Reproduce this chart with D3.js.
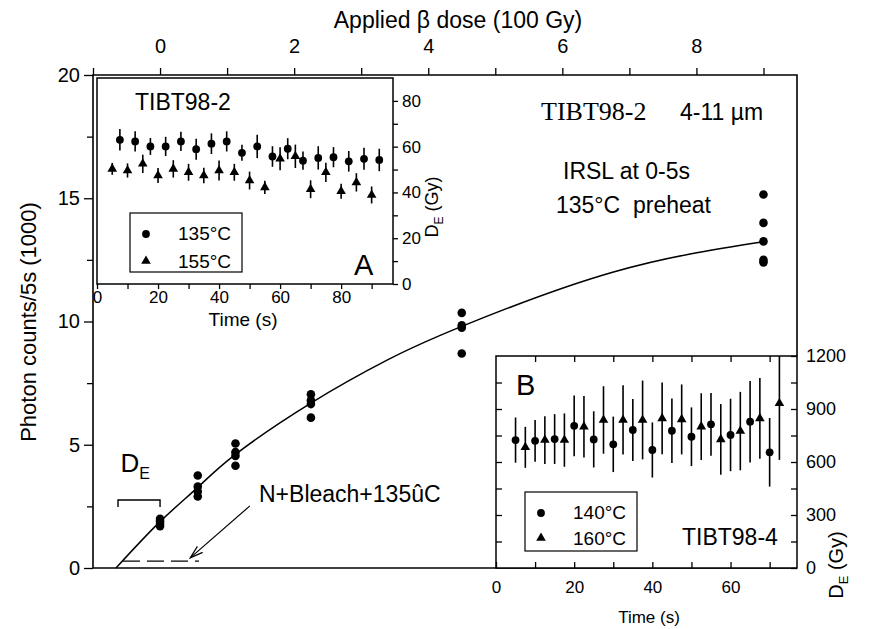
<!DOCTYPE html>
<html>
<head>
<meta charset="utf-8">
<script src="https://d3js.org/d3.v7.min.js"></script>
<style>
  body { margin: 0; background: #fff; }
  text { font-family: "Liberation Sans", Arial, sans-serif; fill: #000; }
</style>
</head>
<body>
<div id="chart"></div>
<script>
// main growth curve: applied beta dose (100 Gy) vs photon counts/5s (1000)
var doses = [0, 0.5625, 1.125, 2.25, 4.5, 9];
var counts = [
  [2.0, 1.9, 1.8, 1.7],
  [3.75, 3.3, 3.1, 2.9],
  [5.05, 4.7, 4.55, 4.15],
  [7.05, 6.8, 6.65, 6.1],
  [10.35, 9.85, 9.75, 8.7],
  [15.15, 14.0, 13.25, 12.5, 12.4]
];
// fitted curve
var fitDose = [-0.657, 0, 0.5625, 1.125, 2.25, 3.4, 4.5, 6.75, 9];
var fitCounts = [0, 1.88, 3.27, 4.61, 6.69, 8.45, 9.8, 12.0, 13.24];

// inset A: TIBT98-2, DE (Gy) vs time (s)
var aTime135 = [7.5, 12.5, 17.5, 22.5, 27.5, 32.5, 37.5, 42.5, 47.5, 52.5, 57.5, 62.5, 67.5, 72.5, 77.5, 82.5, 87.5, 92.5];
var aDe135 = [63.0, 62.3, 60.1, 60.1, 62.3, 58.9, 61.3, 62.3, 57.3, 60.1, 55.7, 59.1, 53.9, 55.1, 55.4, 53.6, 54.7, 54.2];
var aErr135 = [4.7, 4.4, 3.7, 4.2, 4.2, 4.6, 4.5, 4.4, 3.5, 5.1, 4.5, 4.6, 4.0, 5.1, 4.4, 4.5, 4.8, 4.9];
var aTime155 = [5, 10, 15, 20, 25, 30, 35, 40, 45, 50, 55, 60, 65, 70, 75, 80, 85, 90];
var aDe155 = [50.3, 49.6, 52.5, 47.4, 50.3, 48.8, 47.4, 49.6, 48.8, 45.2, 42.2, 54.7, 55.8, 41.4, 48.8, 40.5, 44.4, 38.9];
var aErr155 = [2.6, 3.1, 4.0, 3.3, 3.8, 3.7, 3.4, 4.4, 3.7, 3.9, 2.9, 5.0, 5.1, 3.9, 4.2, 3.3, 4.0, 3.7];

// inset B: TIBT98-4, DE (Gy) vs time (s)
var bTime140 = [5, 10, 15, 20, 25, 30, 35, 40, 45, 50, 55, 60, 65, 70];
var bDe140 = [724, 720, 730, 805, 728, 700, 781, 668, 777, 743, 813, 753, 828, 655];
var bErr140 = [128, 118, 141, 172, 159, 157, 176, 156, 182, 166, 177, 205, 231, 194];
var bTime160 = [7.5, 12.5, 17.5, 22.5, 27.5, 32.5, 37.5, 42.5, 47.5, 52.5, 57.5, 62.5, 67.5, 72.5];
var bDe160 = [683, 724, 724, 800, 838, 838, 838, 847, 841, 800, 728, 775, 847, 932];
var bErr160 = [116, 135, 151, 174, 191, 196, 223, 203, 198, 189, 200, 222, 229, 320];

var svg = d3.select("#chart").append("svg")
  .attr("width", 887)
  .attr("height", 629);

// ---------- main plot ----------
var x = d3.scaleLinear().domain([-1, 9.5]).range([93, 797]);
var y = d3.scaleLinear().domain([0, 20]).range([568, 75]);

function styleAxis(g, size) {
  g.select(".domain").remove();
  g.attr("font-size", size).attr("font-family", "Liberation Sans, Arial, sans-serif");
  g.selectAll("text").style("font-size", size + "px");
  g.selectAll("line").attr("stroke-width", 1.3);
}

var yAxis = svg.append("g")
  .attr("transform", "translate(93,0)")
  .call(d3.axisLeft(y).tickValues(d3.range(0, 20.1, 2.5)).tickSize(9).tickPadding(4)
    .tickFormat(function(d) { return d % 5 === 0 ? d : ""; }));
styleAxis(yAxis, 20);
yAxis.selectAll(".tick line").filter(function(d) { return d % 5 !== 0; }).attr("x2", -6);

var topAxis = svg.append("g")
  .attr("transform", "translate(0,75)")
  .call(d3.axisTop(x).tickValues(d3.range(-1, 10)).tickSize(7).tickPadding(15)
    .tickFormat(function(d) { return (d >= 0 && d % 2 === 0) ? d : ""; }));
styleAxis(topAxis, 20);

// frame
svg.append("path")
  .attr("d", "M" + x(-1) + "," + y(0) + "V" + y(20) + "H" + x(9.5) + "V356")
  .attr("fill", "none").attr("stroke", "#000").attr("stroke-width", 1.6);
svg.append("line")
  .attr("x1", x(-1)).attr("x2", x(9.5)).attr("y1", y(0)).attr("y2", y(0))
  .attr("stroke", "#000").attr("stroke-width", 1.6);

svg.append("text")
  .attr("x", 458).attr("y", 28)
  .attr("text-anchor", "middle").attr("font-size", 23)
  .text("Applied \u03b2 dose (100 Gy)");

svg.append("text")
  .attr("transform", "translate(36,322) rotate(-90)")
  .attr("text-anchor", "middle").attr("font-size", 22)
  .text("Photon counts/5s (1000)");

// fit curve
var fitLine = d3.line()
  .x(function(d, i) { return x(fitDose[i]); })
  .y(function(d) { return y(d); })
  .curve(d3.curveNatural);
svg.append("path")
  .datum(fitCounts)
  .attr("d", fitLine)
  .attr("fill", "none").attr("stroke", "#000").attr("stroke-width", 1.5);

// data points
var pts = [];
doses.forEach(function(dv, i) {
  counts[i].forEach(function(c) { pts.push({dose: dv, c: c}); });
});
svg.append("g").selectAll("circle")
  .data(pts)
  .enter().append("circle")
  .attr("cx", function(d) { return x(d.dose); })
  .attr("cy", function(d) { return y(d.c); })
  .attr("r", 4.3);

// DE bracket, dashed extrapolation and arrow
svg.append("path")
  .attr("d", "M" + x(-0.627) + "," + y(2.47) + "V" + y(2.76) + "H" + x(0) + "V" + y(2.47))
  .attr("fill", "none").attr("stroke", "#000").attr("stroke-width", 1.4);
svg.append("line")
  .attr("x1", x(-0.553)).attr("x2", x(0.581)).attr("y1", y(0.28)).attr("y2", y(0.28))
  .attr("stroke", "#000").attr("stroke-width", 1.3).attr("stroke-dasharray", "17,7");

svg.append("defs").append("marker")
  .attr("id", "arr").attr("viewBox", "0 0 14 10").attr("refX", 13).attr("refY", 5)
  .attr("markerWidth", 14).attr("markerHeight", 10).attr("markerUnits", "userSpaceOnUse")
  .attr("orient", "auto")
  .append("path").attr("d", "M0,1 L13,5 L0,9")
  .attr("fill", "none").attr("stroke", "#000").attr("stroke-width", 1.2);
svg.append("line")
  .attr("x1", x(1.34)).attr("y1", y(2.52)).attr("x2", x(0.45)).attr("y2", y(0.41))
  .attr("stroke", "#000").attr("stroke-width", 1.2).attr("marker-end", "url(#arr)");

var de = svg.append("text").attr("x", x(-0.59)).attr("y", y(3.9)).attr("font-size", 26);
de.append("tspan").text("D");
de.append("tspan").attr("font-size", 16).attr("dy", 7).text("E");

svg.append("text").attr("x", x(1.476)).attr("y", y(2.68)).attr("font-size", 23)
  .text("N+Bleach+135\u00fbC");

svg.append("text").attr("x", 541).attr("y", 120).attr("font-size", 26)
  .style("font-family", "Liberation Serif, Times New Roman, serif")
  .text("TIBT98-2");
svg.append("text").attr("x", 680).attr("y", 120).attr("font-size", 23).text("4-11 \u00b5m");
svg.append("text").attr("x", 563).attr("y", 179).attr("font-size", 23).text("IRSL at 0-5s");
svg.append("text").attr("x", 556).attr("y", 213).attr("font-size", 23)
  .style("white-space", "pre").text("135\u00b0C  preheat");

// ---------- shared helpers ----------
function triangle(size) { return d3.symbol().type(d3.symbolTriangle).size(size)(); }

function drawSeries(g, xs, ys, tv, dv, ev, kind, ymax) {
  var data = tv.map(function(t, i) { return {t: t, v: dv[i], e: ev[i]}; });
  g.append("g").selectAll("line")
    .data(data).enter().append("line")
    .attr("x1", function(d) { return xs(d.t); })
    .attr("x2", function(d) { return xs(d.t); })
    .attr("y1", function(d) { return ys(Math.min(d.v + d.e, ymax)); })
    .attr("y2", function(d) { return ys(d.v - d.e); })
    .attr("stroke", "#000").attr("stroke-width", 1.6);
  if (kind === "circle") {
    g.append("g").selectAll("circle")
      .data(data).enter().append("circle")
      .attr("cx", function(d) { return xs(d.t); })
      .attr("cy", function(d) { return ys(d.v); })
      .attr("r", 3.9);
  } else {
    g.append("g").selectAll("path")
      .data(data).enter().append("path")
      .attr("d", triangle(40))
      .attr("transform", function(d) { return "translate(" + xs(d.t) + "," + ys(d.v) + ")"; });
  }
}

// ---------- inset A ----------
var ax = d3.scaleLinear().domain([0, 97]).range([97, 393]);
var ay = d3.scaleLinear().domain([0, 90]).range([284, 78]);
var gA = svg.append("g");
gA.append("rect").attr("x", 97).attr("y", 78).attr("width", 296).attr("height", 206)
  .attr("fill", "#fff").attr("stroke", "#000").attr("stroke-width", 1.5);

var aRight = gA.append("g").attr("transform", "translate(393,0)")
  .call(d3.axisRight(ay).tickValues(d3.range(0, 81, 10)).tickSize(5).tickPadding(4)
    .tickFormat(function(d) { return d % 20 === 0 ? d : ""; }));
styleAxis(aRight, 17);
var aBottom = gA.append("g").attr("transform", "translate(0,284)")
  .call(d3.axisBottom(ax).tickValues(d3.range(0, 91, 10)).tickSize(5).tickPadding(2)
    .tickFormat(function(d) { return d % 20 === 0 ? d : ""; }));
styleAxis(aBottom, 17);

drawSeries(gA, ax, ay, aTime135, aDe135, aErr135, "circle", 90);
drawSeries(gA, ax, ay, aTime155, aDe155, aErr155, "triangle", 90);

gA.append("text").attr("x", 135).attr("y", 110).attr("font-size", 23).text("TIBT98-2");
gA.append("text").attr("x", 354).attr("y", 275).attr("font-size", 29).text("A");
gA.append("text").attr("x", 243).attr("y", 326).attr("text-anchor", "middle").attr("font-size", 19).text("Time (s)");
var aLab = gA.append("text").attr("transform", "translate(438,207) rotate(-90)")
  .attr("text-anchor", "middle").attr("font-size", 18);
aLab.append("tspan").text("D");
aLab.append("tspan").attr("font-size", 12).attr("dy", 5).text("E");
aLab.append("tspan").attr("dy", -5).text(" (Gy)");

// legend A
gA.append("rect").attr("x", 130).attr("y", 213).attr("width", 112).attr("height", 59)
  .attr("fill", "#fff").attr("stroke", "#000").attr("stroke-width", 1.2);
gA.append("circle").attr("cx", 146).attr("cy", 234).attr("r", 3.9);
gA.append("path").attr("d", triangle(40)).attr("transform", "translate(146,261)");
gA.append("text").attr("x", 178).attr("y", 240).attr("font-size", 19).text("135\u00b0C");
gA.append("text").attr("x", 178).attr("y", 268).attr("font-size", 19).text("155\u00b0C");

// ---------- inset B ----------
var bx = d3.scaleLinear().domain([0, 77]).range([496, 797]);
var by = d3.scaleLinear().domain([0, 1200]).range([568, 356]);
var gB = svg.append("g");
gB.append("rect").attr("x", 496).attr("y", 356).attr("width", 301).attr("height", 212)
  .attr("fill", "#fff").attr("stroke", "#000").attr("stroke-width", 1.5);

var bRight = gB.append("g").attr("transform", "translate(797,0)")
  .call(d3.axisRight(by).tickValues(d3.range(0, 1201, 150)).tickSize(-6).tickPadding(9)
    .tickFormat(function(d) { return d % 300 === 0 ? d : ""; }));
styleAxis(bRight, 18);
var bLeft = gB.append("g").attr("transform", "translate(496,0)")
  .call(d3.axisLeft(by).tickValues(d3.range(150, 1200, 150)).tickSize(-6).tickFormat(""));
styleAxis(bLeft, 18);
var bBottom = gB.append("g").attr("transform", "translate(0,568)")
  .call(d3.axisBottom(bx).tickValues(d3.range(0, 71, 10)).tickSize(-6).tickPadding(13)
    .tickFormat(function(d) { return d % 20 === 0 ? d : ""; }));
styleAxis(bBottom, 17);
var bTop = gB.append("g").attr("transform", "translate(0,356)")
  .call(d3.axisTop(bx).tickValues(d3.range(10, 71, 10)).tickSize(-6).tickFormat(""));
styleAxis(bTop, 18);

drawSeries(gB, bx, by, bTime140, bDe140, bErr140, "circle", 1200);
drawSeries(gB, bx, by, bTime160, bDe160, bErr160, "triangle", 1200);

gB.append("text").attr("x", 516).attr("y", 395).attr("font-size", 29).text("B");
gB.append("text").attr("x", 682).attr("y", 545).attr("font-size", 23).text("TIBT98-4");
gB.append("text").attr("x", 649).attr("y", 623).attr("text-anchor", "middle").attr("font-size", 17).text("Time (s)");
var bLab = gB.append("text").attr("transform", "translate(843,565) rotate(-90)")
  .attr("text-anchor", "middle").attr("font-size", 20);
bLab.append("tspan").text("D");
bLab.append("tspan").attr("font-size", 13).attr("dy", 5).text("E");
bLab.append("tspan").attr("dy", -5).text(" (Gy)");

// legend B
gB.append("rect").attr("x", 525).attr("y", 492).attr("width", 112).attr("height", 59)
  .attr("fill", "#fff").attr("stroke", "#000").attr("stroke-width", 1.2);
gB.append("circle").attr("cx", 541).attr("cy", 513).attr("r", 3.9);
gB.append("path").attr("d", triangle(40)).attr("transform", "translate(541,538)");
gB.append("text").attr("x", 573).attr("y", 519).attr("font-size", 19).text("140\u00b0C");
gB.append("text").attr("x", 573).attr("y", 545).attr("font-size", 19).text("160\u00b0C");
</script>
</body>
</html>
